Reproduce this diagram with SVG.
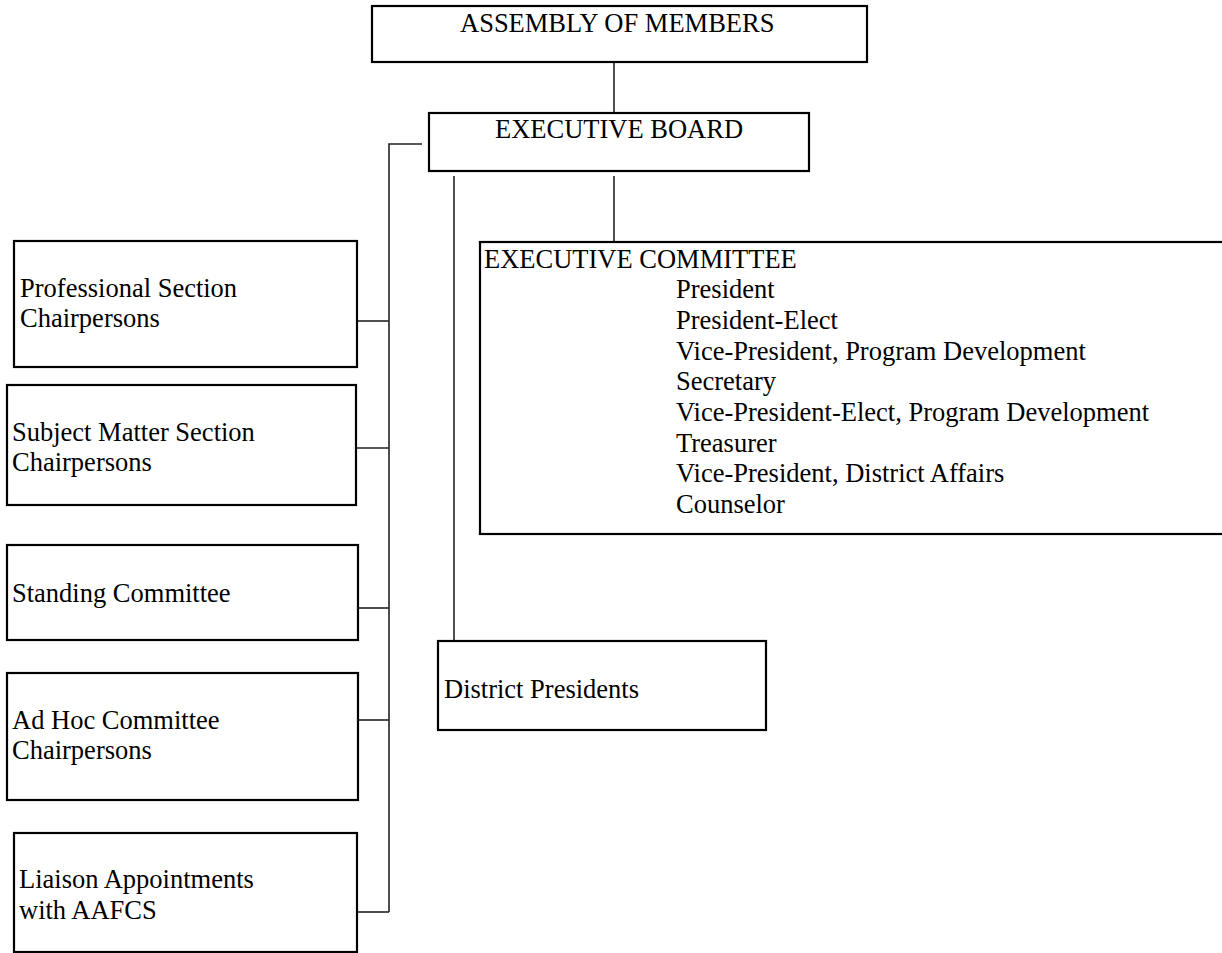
<svg xmlns="http://www.w3.org/2000/svg" width="1222" height="953" viewBox="0 0 1222 953">
<style>
.box{fill:#fff;stroke:#000;stroke-width:2.2}
.t{font-family:"Liberation Serif","Times New Roman",serif;font-size:26.5px;fill:#000}
.c{fill:none;stroke:#222;stroke-width:1.6}
</style>
<rect width="1222" height="953" fill="#fff"/>
<g id="connectors">
<line class="c" x1="614" y1="62" x2="614" y2="113"/>
<polyline class="c" points="422,144 389,144 389,912"/>
<line class="c" x1="357" y1="321" x2="389" y2="321"/>
<line class="c" x1="356" y1="448" x2="389" y2="448"/>
<line class="c" x1="358" y1="608" x2="389" y2="608"/>
<line class="c" x1="358" y1="720" x2="389" y2="720"/>
<line class="c" x1="357" y1="912" x2="389" y2="912"/>
<line class="c" x1="454" y1="176" x2="454" y2="641"/>
<line class="c" x1="614" y1="176" x2="614" y2="242"/>
</g>
<g id="assembly">
<rect class="box" x="372" y="6" width="495" height="56"/>
<text class="t" x="460" y="32">ASSEMBLY OF MEMBERS</text>
</g>
<g id="board">
<rect class="box" x="429" y="113" width="380" height="58"/>
<text class="t" x="495" y="138">EXECUTIVE BOARD</text>
</g>
<g id="committee">
<rect class="box" x="480" y="242" width="760" height="292"/>
<text class="t" x="484" y="268">EXECUTIVE COMMITTEE</text>
<text class="t" x="676" y="298">President</text>
<text class="t" x="676" y="329">President-Elect</text>
<text class="t" x="676" y="360">Vice-President, Program Development</text>
<text class="t" x="676" y="390">Secretary</text>
<text class="t" x="676" y="421">Vice-President-Elect, Program Development</text>
<text class="t" x="676" y="452">Treasurer</text>
<text class="t" x="676" y="482">Vice-President, District Affairs</text>
<text class="t" x="676" y="513">Counselor</text>
</g>
<g id="professional">
<rect class="box" x="14" y="241" width="343" height="126"/>
<text class="t" x="20" y="297">Professional Section</text>
<text class="t" x="20" y="327">Chairpersons</text>
</g>
<g id="subject">
<rect class="box" x="7" y="385" width="349" height="120"/>
<text class="t" x="12" y="441">Subject Matter Section</text>
<text class="t" x="12" y="471">Chairpersons</text>
</g>
<g id="standing">
<rect class="box" x="7" y="545" width="351" height="95"/>
<text class="t" x="12" y="602">Standing Committee</text>
</g>
<g id="adhoc">
<rect class="box" x="7" y="673" width="351" height="127"/>
<text class="t" x="12" y="729">Ad Hoc Committee</text>
<text class="t" x="12" y="759">Chairpersons</text>
</g>
<g id="liaison">
<rect class="box" x="14" y="833" width="343" height="119"/>
<text class="t" x="19" y="888">Liaison Appointments</text>
<text class="t" x="19" y="919">with AAFCS</text>
</g>
<g id="district">
<rect class="box" x="438" y="641" width="328" height="89"/>
<text class="t" x="444" y="698">District Presidents</text>
</g>
</svg>
